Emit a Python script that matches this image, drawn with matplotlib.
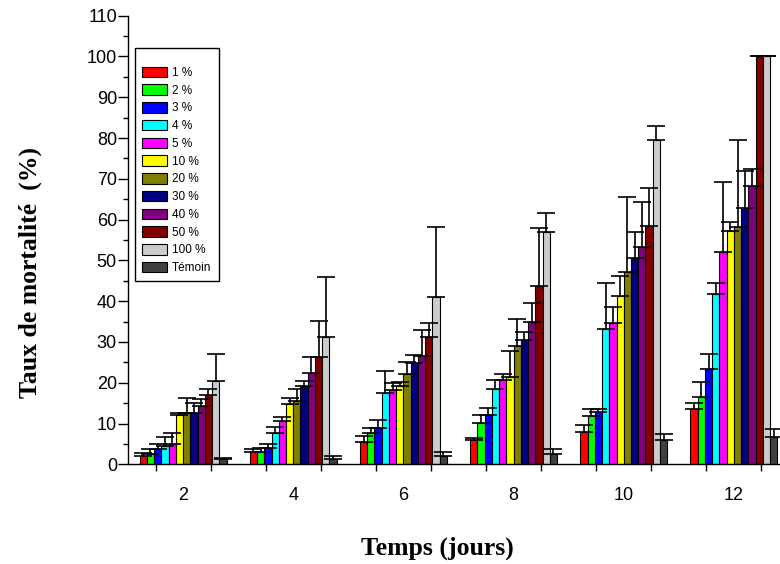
import numpy as np
import matplotlib
matplotlib.use("Agg")
import matplotlib.pyplot as plt
from matplotlib.ticker import MultipleLocator, FixedLocator

# Jours de mesure
jours = [2, 4, 6, 8, 10, 12]
doses = ["1 %", "2 %", "3 %", "4 %", "5 %", "10 %", "20 %", "30 %",
         "40 %", "50 %", "100 %", "Témoin"]
couleurs = ["#ff0000", "#00ff00", "#0000ff", "#00ffff", "#ff00ff", "#ffff00",
            "#808000", "#000080", "#800080", "#800000", "#cccccc", "#404040"]

# moyennes (une liste par jour, ordre = doses)
moy_j2 = [2.0, 2.5, 3.7, 4.5, 4.9, 12.1, 12.5, 12.7, 14.3, 17.0, 20.5, 1.2]
moy_j4 = [3.1, 3.1, 4.1, 7.6, 10.6, 14.7, 15.5, 19.3, 22.3, 26.2, 31.3, 1.2]
moy_j6 = [5.4, 7.6, 8.8, 17.4, 18.2, 19.2, 22.1, 24.8, 26.6, 31.1, 41.1, 2.0]
moy_j8 = [6.0, 10.2, 12.1, 18.4, 20.7, 21.5, 29.1, 30.5, 35.0, 43.6, 56.9, 2.5]
moy_j10 = [8.0, 11.9, 12.9, 33.2, 34.7, 41.3, 47.1, 50.7, 53.4, 58.4, 79.5, 6.0]
moy_j12 = [13.6, 16.6, 23.4, 41.7, 52.1, 57.3, 58.3, 62.9, 68.3, 100.0, 100.0, 6.8]

# ecarts-types (barre d'erreur vers le haut seulement)
err_j2 = [0.7, 1.2, 1.4, 2.1, 2.8, 0.6, 3.7, 2.3, 1.7, 1.4, 6.5, 0.3]
err_j4 = [0.6, 1.0, 1.0, 1.5, 1.1, 1.6, 2.9, 1.2, 3.9, 8.9, 14.6, 0.9]
err_j6 = [1.5, 1.4, 2.1, 5.5, 1.7, 0.9, 2.9, 2.0, 6.3, 3.5, 17.0, 0.9]
err_j8 = [0.5, 1.9, 1.8, 2.3, 1.4, 6.3, 6.5, 1.9, 4.5, 14.4, 4.6, 1.2]
err_j10 = [1.6, 1.6, 0.6, 11.2, 3.9, 4.9, 18.5, 6.3, 11.0, 9.4, 3.5, 1.4]
err_j12 = [1.4, 3.7, 3.6, 2.8, 17.0, 2.0, 21.2, 9.0, 4.0, 0.0, 0.0, 1.8]

moyennes = np.array([moy_j2, moy_j4, moy_j6, moy_j8, moy_j10, moy_j12])
erreurs = np.array([err_j2, err_j4, err_j6, err_j8, err_j10, err_j12])

W = 0.1316  # largeur d'une barre (en jours)

fig = plt.figure(figsize=(7.8, 5.64), dpi=100)
ax = fig.add_axes([128 / 780, (564 - 464.3) / 564, 661 / 780, 448.6 / 564])

x0 = np.array(jours, dtype=float)
for i, (lab, c) in enumerate(zip(doses, couleurs)):
    x = x0 + (i - 5.5) * W
    ax.bar(x, moyennes[:, i], W, color=c, edgecolor="black", linewidth=0.8,
           label=lab, zorder=2)
# barres d'erreur par-dessus les barres
for i in range(len(doses)):
    x = x0 + (i - 5.5) * W
    e = erreurs[:, i]
    ax.errorbar(x, moyennes[:, i], yerr=[np.zeros_like(e), e], fmt="none",
                ecolor="black", elinewidth=1.2, capsize=6.5, capthick=1.2,
                zorder=3)

ax.set_xlim(1, 13)
ax.set_ylim(0, 110)
ax.yaxis.set_major_locator(MultipleLocator(10))
ax.yaxis.set_minor_locator(MultipleLocator(5))
ax.xaxis.set_major_locator(FixedLocator(jours))
ax.xaxis.set_minor_locator(FixedLocator(np.arange(1.5, 13, 1.0)))
ax.set_xticklabels([str(j) for j in jours])

for s in ["top", "right"]:
    ax.spines[s].set_visible(False)
for s in ["left", "bottom"]:
    ax.spines[s].set_linewidth(1.0)

ax.tick_params(axis="y", which="major", direction="out", length=7, width=1,
               labelsize=13, pad=1)
ax.tick_params(axis="y", which="minor", direction="out", length=3.6, width=1)
ax.tick_params(axis="x", which="major", length=0, labelsize=13, pad=16)
ax.tick_params(axis="x", which="minor", direction="out", length=5, width=1)
for t in ax.get_xticklabels() + ax.get_yticklabels():
    t.set_fontfamily("Liberation Sans")

ax.set_xlabel("Temps (jours)", fontfamily="Liberation Serif",
              fontweight="bold", fontsize=18.5)
ax.xaxis.set_label_coords((437 - 128) / 661, (464.3 - 548) / 448.6)
ax.xaxis.label.set_va("center")
ax.set_ylabel("Taux de mortalité  (%)", fontfamily="Liberation Serif",
              fontweight="bold", fontsize=18.5)
ax.yaxis.set_label_coords((30 - 128) / 661, (464.3 - 272) / 448.6)
ax.yaxis.label.set_va("center")

leg = ax.legend(loc="upper left", bbox_to_anchor=(135 / 780, 1 - 48 / 564),
                bbox_transform=fig.transFigure, frameon=True, fancybox=False,
                edgecolor="black", framealpha=1,
                prop={"family": "Liberation Sans", "size": 8.5},
                handlelength=2.1, handleheight=1.0, labelspacing=0.46,
                handletextpad=0.45, borderpad=0.6, borderaxespad=0,
                title=" ", title_fontsize=5)
leg.get_frame().set_linewidth(1.0)

fig.savefig("out.png", dpi=100)
plt.close(fig)
